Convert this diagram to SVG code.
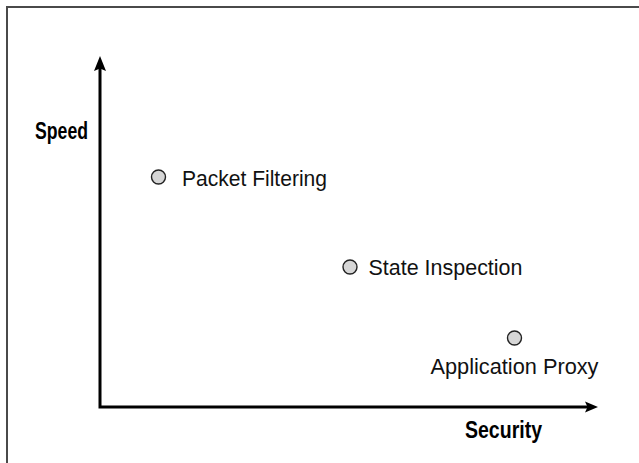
<svg xmlns="http://www.w3.org/2000/svg" width="639" height="463" viewBox="0 0 639 463">
<style>
.frame{fill:none;stroke:#4a4a4a;stroke-width:2}
.axis{fill:none;stroke:#000;stroke-width:3}
.head{fill:#000;stroke:none}
.dot{fill:#d6d6d6;stroke:#222;stroke-width:1.4}
.lbl{font-family:"Liberation Sans",Arial,sans-serif;font-size:22.5px;fill:#111}
.ax{font-family:"Liberation Sans",Arial,sans-serif;font-size:23px;font-weight:bold;fill:#000}
</style>
<rect class="frame" x="7" y="7" width="700" height="600"/>
<g id="connectors">
<path class="axis" d="M100,68 V407 H588"/>
<path class="head" d="M100,56 L106,71 L100,68.5 L94,71 Z"/>
<path class="head" d="M598,407 L585,401.5 L587.5,407 L585,412.5 Z"/>
</g>
<g id="speed-label"><text class="ax" x="35" y="139" textLength="53" lengthAdjust="spacingAndGlyphs">Speed</text></g>
<g id="security-label"><text class="ax" x="465" y="438" textLength="77" lengthAdjust="spacingAndGlyphs">Security</text></g>
<g id="packet-filtering">
<circle class="dot" cx="158.5" cy="177" r="7"/>
<text class="lbl" x="182" y="186" textLength="145" lengthAdjust="spacingAndGlyphs">Packet Filtering</text>
</g>
<g id="state-inspection">
<circle class="dot" cx="350" cy="267" r="7"/>
<text class="lbl" x="368.5" y="275" textLength="154" lengthAdjust="spacingAndGlyphs">State Inspection</text>
</g>
<g id="application-proxy">
<circle class="dot" cx="514.5" cy="338" r="7"/>
<text class="lbl" x="430.5" y="374" textLength="168" lengthAdjust="spacingAndGlyphs">Application Proxy</text>
</g>
</svg>
